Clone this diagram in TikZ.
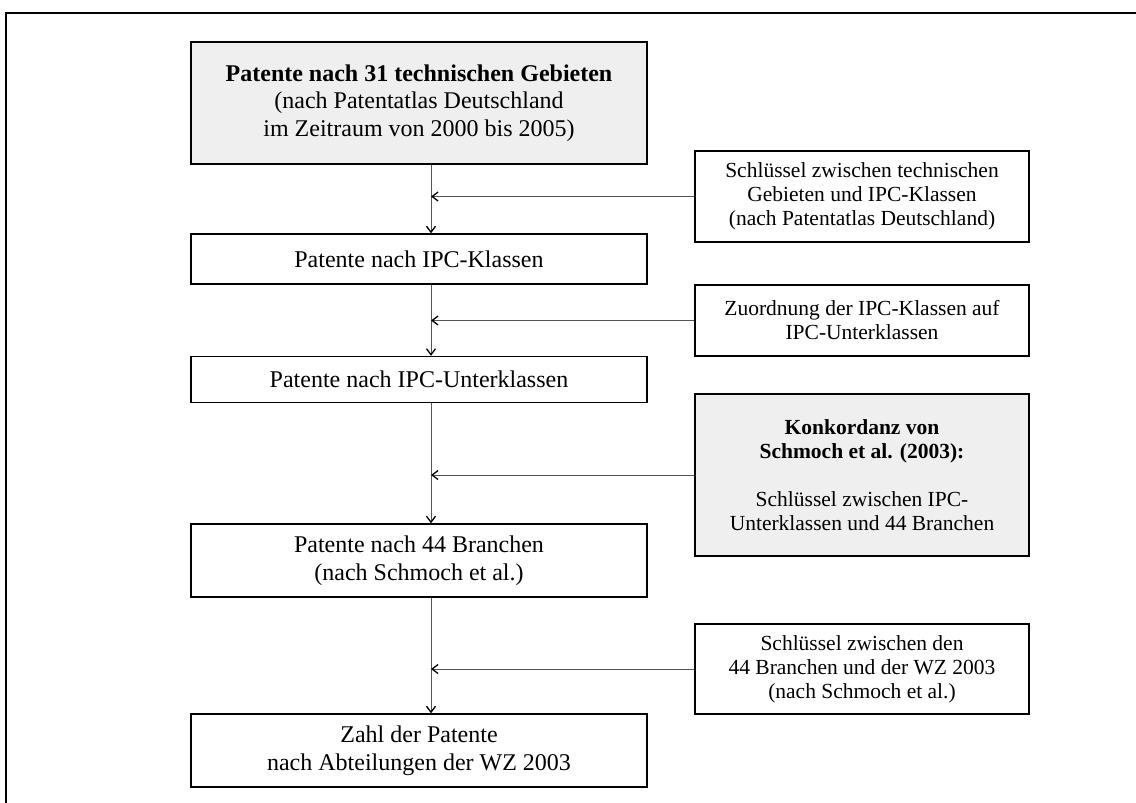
\documentclass[tikz,border=0pt]{standalone}
\usepackage{fontspec}
\setmainfont{Liberation Serif}
\usetikzlibrary{arrows.meta}
\definecolor{boxgray}{HTML}{EFEFEF}
\definecolor{conngray}{HTML}{555555}
\begin{document}
\begin{tikzpicture}[x=1pt,y=-1pt,
  lbox/.style={draw=black, line width=1.4pt, minimum width=456pt, align=center, inner sep=0pt, font=\fontsize{24}{27.6}\selectfont},
  rbox/.style={draw=black, line width=1.4pt, minimum width=334pt, align=center, inner sep=0pt, font=\fontsize{21.5}{24}\selectfont},
  conn/.style={draw=conngray, line width=1pt, -{Straight Barb[length=6pt,width=9pt,line width=1.3pt,color=black]}}]
\useasboundingbox (0,0) rectangle (1136,803);
\draw[line width=2.4pt] (6,1000) -- (6,13) -- (1200,13);
\node[lbox, fill=boxgray, minimum height=122pt] (b1) at (419,103) {\textbf{Patente nach 31 technischen Gebieten}\\(nach Patentatlas Deutschland\\im Zeitraum von 2000 bis 2005)};
\node[lbox, minimum height=50pt] (b2) at (419,259) {Patente nach IPC-Klassen};
\node[lbox, minimum height=46pt] (b3) at (419,379.5) {Patente nach IPC-Unterklassen};
\node[lbox, minimum height=73pt] (b4) at (419,560.5) {Patente nach 44 Branchen\\(nach Schmoch et al.)};
\node[lbox, minimum height=73pt] (b5) at (419,750.5) {Zahl der Patente\\nach Abteilungen der WZ 2003};
\node[rbox, minimum height=91pt] (r1) at (862,196.5) {Schlüssel zwischen technischen\\Gebieten und IPC-Klassen\\(nach Patentatlas Deutschland)};
\node[rbox, minimum height=71pt] (r2) at (862,320.5) {Zuordnung der IPC-Klassen auf\\IPC-Unterklassen};
\node[rbox, fill=boxgray, minimum height=162pt] (r3) at (862,475) {\textbf{Konkordanz von}\\\textbf{Schmoch et al. (2003):}\\[24pt]Schlüssel zwischen IPC-\\Unterklassen und 44 Branchen};
\node[rbox, minimum height=90pt] (r4) at (862,669) {Schlüssel zwischen den\\44 Branchen und der WZ 2003\\(nach Schmoch et al.)};
\coordinate (lx) at (431,0);
\draw[conn] (b1.south -| lx) -- (b2.north -| lx);
\draw[conn] (b2.south -| lx) -- (b3.north -| lx);
\draw[conn] (b3.south -| lx) -- (b4.north -| lx);
\draw[conn] (b4.south -| lx) -- (b5.north -| lx);
\draw[conn] (r1.west) -- (r1.west -| lx);
\draw[conn] (r2.west) -- (r2.west -| lx);
\draw[conn] (r3.west) -- (r3.west -| lx);
\draw[conn] (r4.west) -- (r4.west -| lx);
\end{tikzpicture}
\end{document}
